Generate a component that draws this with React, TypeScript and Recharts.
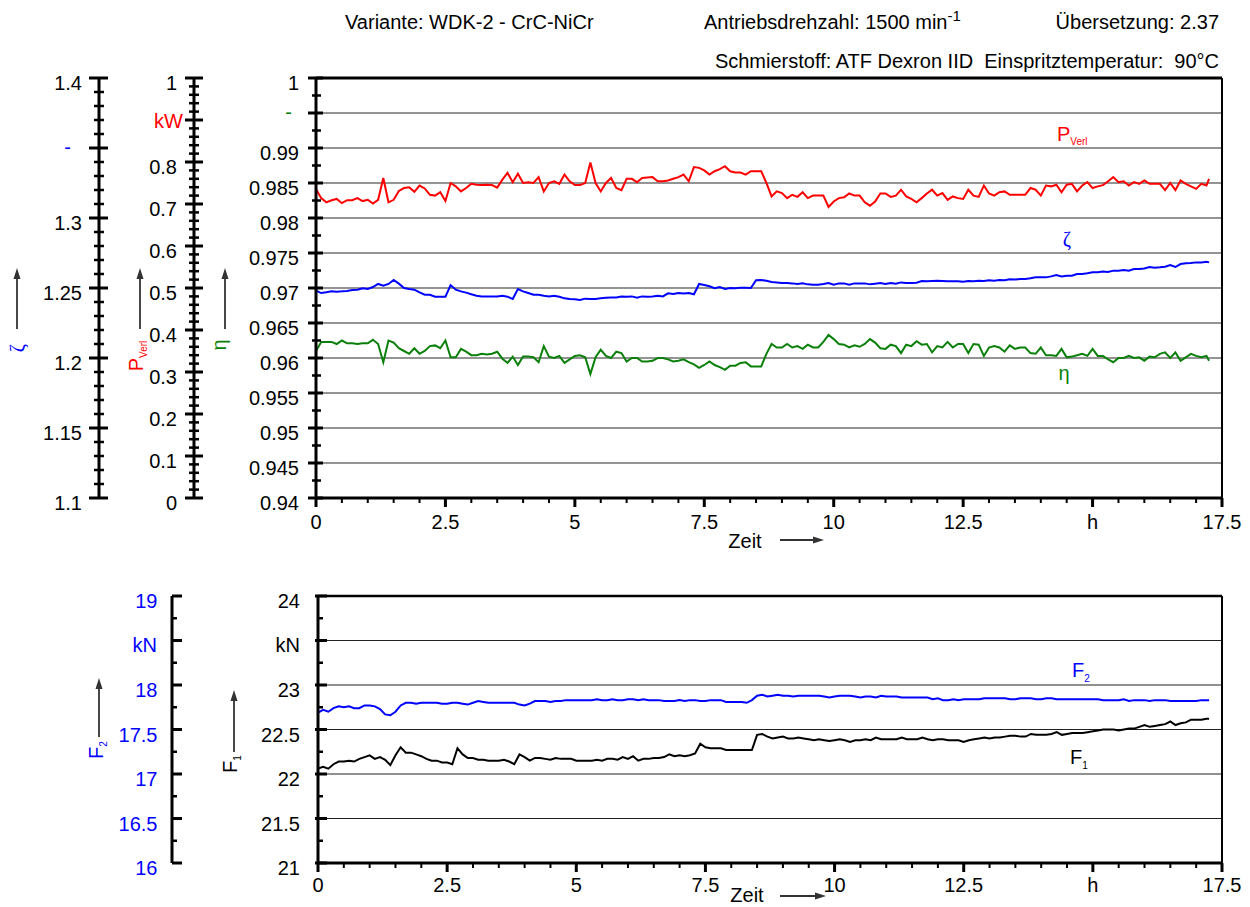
import React from "react";
import { ComposedChart, Line, XAxis, YAxis, ReferenceLine } from "recharts";

// sample times in hours
const hours = [
  0, 0.1, 0.2, 0.3, 0.4, 0.5, 0.6, 0.7, 0.8, 0.9,
  1, 1.1, 1.2, 1.3, 1.4, 1.5, 1.6, 1.7, 1.8, 1.9,
  2, 2.1, 2.2, 2.3, 2.4, 2.5, 2.6, 2.7, 2.8, 2.9,
  3, 3.1, 3.2, 3.3, 3.4, 3.5, 3.6, 3.7, 3.8, 3.9,
  4, 4.1, 4.2, 4.3, 4.4, 4.5, 4.6, 4.7, 4.8, 4.9,
  5, 5.1, 5.2, 5.3, 5.4, 5.5, 5.6, 5.7, 5.8, 5.9,
  6, 6.1, 6.2, 6.3, 6.4, 6.5, 6.6, 6.7, 6.8, 6.9,
  7, 7.1, 7.2, 7.3, 7.4, 7.5, 7.6, 7.7, 7.8, 7.9,
  8, 8.1, 8.2, 8.3, 8.4, 8.5, 8.6, 8.7, 8.8, 8.9,
  9, 9.1, 9.2, 9.3, 9.4, 9.5, 9.6, 9.7, 9.8, 9.9,
  10, 10.1, 10.2, 10.3, 10.4, 10.5, 10.6, 10.7, 10.8, 10.9,
  11, 11.1, 11.2, 11.3, 11.4, 11.5, 11.6, 11.7, 11.8, 11.9,
  12, 12.1, 12.2, 12.3, 12.4, 12.5, 12.6, 12.7, 12.8, 12.9,
  13, 13.1, 13.2, 13.3, 13.4, 13.5, 13.6, 13.7, 13.8, 13.9,
  14, 14.1, 14.2, 14.3, 14.4, 14.5, 14.6, 14.7, 14.8, 14.9,
  15, 15.1, 15.2, 15.3, 15.4, 15.5, 15.6, 15.7, 15.8, 15.9,
  16, 16.1, 16.2, 16.3, 16.4, 16.5, 16.6, 16.7, 16.8, 16.9,
  17, 17.1, 17.2, 17.25,
];

// P_Verl in kW
const powerLoss = [
  0.736, 0.714, 0.704, 0.709, 0.712, 0.702, 0.709, 0.709, 0.714, 0.707,
  0.710, 0.701, 0.710, 0.762, 0.704, 0.710, 0.731, 0.738, 0.740, 0.729,
  0.744, 0.737, 0.722, 0.720, 0.728, 0.707, 0.750, 0.742, 0.730, 0.738,
  0.748, 0.746, 0.745, 0.746, 0.745, 0.739, 0.758, 0.774, 0.752, 0.772,
  0.750, 0.752, 0.750, 0.764, 0.730, 0.750, 0.754, 0.748, 0.770, 0.754,
  0.745, 0.745, 0.750, 0.799, 0.750, 0.730, 0.750, 0.762, 0.738, 0.733,
  0.760, 0.760, 0.752, 0.762, 0.763, 0.764, 0.754, 0.754, 0.756, 0.760,
  0.764, 0.770, 0.754, 0.788, 0.786, 0.780, 0.770, 0.778, 0.783, 0.790,
  0.778, 0.775, 0.775, 0.770, 0.778, 0.778, 0.778, 0.750, 0.718, 0.730,
  0.726, 0.714, 0.722, 0.717, 0.728, 0.714, 0.720, 0.720, 0.720, 0.693,
  0.706, 0.714, 0.716, 0.725, 0.720, 0.720, 0.704, 0.696, 0.706, 0.725,
  0.725, 0.717, 0.720, 0.734, 0.718, 0.712, 0.704, 0.714, 0.725, 0.734,
  0.720, 0.726, 0.710, 0.718, 0.714, 0.712, 0.734, 0.720, 0.717, 0.744,
  0.725, 0.720, 0.728, 0.730, 0.722, 0.722, 0.722, 0.722, 0.738, 0.734,
  0.720, 0.744, 0.742, 0.746, 0.728, 0.746, 0.748, 0.730, 0.744, 0.752,
  0.738, 0.742, 0.745, 0.754, 0.764, 0.752, 0.754, 0.744, 0.752, 0.748,
  0.756, 0.748, 0.748, 0.748, 0.733, 0.750, 0.733, 0.756, 0.748, 0.742,
  0.736, 0.748, 0.744, 0.760,
];

// zeta (-)
const zeta = [
  1.2481, 1.2464, 1.2469, 1.2476, 1.2474, 1.2476, 1.2479, 1.2486, 1.2488, 1.2498,
  1.2493, 1.2507, 1.2529, 1.2517, 1.2529, 1.2557, 1.2531, 1.25, 1.2493, 1.2488,
  1.2469, 1.2452, 1.2452, 1.2438, 1.2438, 1.2438, 1.2521, 1.2488, 1.2476, 1.2467,
  1.2455, 1.2445, 1.244, 1.244, 1.244, 1.244, 1.2445, 1.2438, 1.2421, 1.2493,
  1.2476, 1.2464, 1.2452, 1.2452, 1.2445, 1.244, 1.2445, 1.2438, 1.2426, 1.2421,
  1.2419, 1.2414, 1.2424, 1.2421, 1.2421, 1.2426, 1.2431, 1.2433, 1.2433, 1.244,
  1.2438, 1.244, 1.2431, 1.244, 1.2438, 1.244, 1.2445, 1.244, 1.2462, 1.2457,
  1.2464, 1.246, 1.2464, 1.2455, 1.2529, 1.2521, 1.2512, 1.2498, 1.2507, 1.2493,
  1.25, 1.2498, 1.2502, 1.2502, 1.25, 1.2555, 1.2557, 1.2552, 1.2543, 1.254,
  1.2536, 1.2536, 1.2533, 1.2529, 1.2533, 1.2526, 1.2524, 1.2524, 1.2529, 1.2536,
  1.2524, 1.2533, 1.2533, 1.2524, 1.2533, 1.2533, 1.2533, 1.2526, 1.2531, 1.2536,
  1.2529, 1.2536, 1.2531, 1.254, 1.2536, 1.2536, 1.2538, 1.255, 1.2548, 1.255,
  1.2552, 1.255, 1.2548, 1.2548, 1.2548, 1.2545, 1.255, 1.2548, 1.2552, 1.255,
  1.2555, 1.2552, 1.2557, 1.2555, 1.2562, 1.256, 1.2564, 1.2564, 1.2569, 1.2576,
  1.2576, 1.2576, 1.2583, 1.2593, 1.2583, 1.2588, 1.2588, 1.26, 1.26, 1.2605,
  1.2612, 1.2612, 1.2617, 1.2614, 1.2624, 1.2624, 1.2629, 1.2624, 1.2636, 1.2636,
  1.264, 1.265, 1.2645, 1.2648, 1.2652, 1.2664, 1.265, 1.2671, 1.2676, 1.2679,
  1.2683, 1.2683, 1.2688, 1.2683,
];

// efficiency eta (-)
const eta = [
  0.961, 0.9623, 0.9623, 0.9623, 0.962, 0.9625, 0.9621, 0.9621, 0.962, 0.9621,
  0.9621, 0.9626, 0.962, 0.9594, 0.9625, 0.9622, 0.9614, 0.961, 0.9606, 0.9614,
  0.9606, 0.961, 0.9617, 0.9618, 0.9614, 0.9625, 0.9601, 0.9601, 0.9613, 0.9609,
  0.9604, 0.9604, 0.9606, 0.9605, 0.9606, 0.9609, 0.9599, 0.9593, 0.9602, 0.959,
  0.9602, 0.9602, 0.9601, 0.9594, 0.9617, 0.9602, 0.96, 0.9603, 0.9593, 0.9598,
  0.9603, 0.9604, 0.9601, 0.9577, 0.9601, 0.9612, 0.9603, 0.96, 0.9609, 0.9607,
  0.9595, 0.96, 0.96, 0.9595, 0.9595, 0.9596, 0.96, 0.96, 0.9598, 0.9595,
  0.9596, 0.9598, 0.9594, 0.9591, 0.9586, 0.959, 0.9595, 0.959, 0.9587, 0.9583,
  0.9589, 0.9589, 0.9593, 0.9594, 0.9588, 0.9588, 0.9588, 0.9606, 0.962, 0.9615,
  0.9615, 0.962, 0.9615, 0.9617, 0.9613, 0.9619, 0.9615, 0.9615, 0.9623, 0.9633,
  0.9627, 0.962, 0.9619, 0.9615, 0.9618, 0.9616, 0.962, 0.9627, 0.9622, 0.9614,
  0.9613, 0.9619, 0.9617, 0.9607, 0.9619, 0.9617, 0.9624, 0.9619, 0.962, 0.9608,
  0.9617, 0.9615, 0.9623, 0.9615, 0.962, 0.962, 0.9607, 0.962, 0.9619, 0.9603,
  0.9615, 0.9617, 0.9615, 0.9609, 0.9618, 0.9613, 0.9615, 0.9615, 0.9607, 0.9606,
  0.9615, 0.9604, 0.9604, 0.9603, 0.9613, 0.9601, 0.9602, 0.9604, 0.9606, 0.9603,
  0.9613, 0.9603, 0.9603, 0.9598, 0.9594, 0.96, 0.96, 0.9603, 0.96, 0.9601,
  0.9596, 0.9602, 0.9601, 0.9606, 0.9608, 0.96, 0.9608, 0.9596, 0.9601, 0.9606,
  0.9603, 0.9601, 0.9603, 0.9596,
];

// F1 in kN
const force1 = [
  22.06, 22.08, 22.06, 22.11, 22.14, 22.14, 22.15, 22.14, 22.17, 22.19,
  22.21, 22.17, 22.19, 22.16, 22.10, 22.21, 22.30, 22.24, 22.24, 22.22,
  22.20, 22.17, 22.15, 22.15, 22.13, 22.13, 22.11, 22.29, 22.22, 22.18,
  22.18, 22.16, 22.16, 22.15, 22.15, 22.15, 22.16, 22.14, 22.11, 22.22,
  22.19, 22.15, 22.18, 22.18, 22.17, 22.16, 22.18, 22.17, 22.17, 22.17,
  22.15, 22.15, 22.15, 22.15, 22.16, 22.15, 22.17, 22.17, 22.16, 22.19,
  22.17, 22.20, 22.15, 22.17, 22.17, 22.18, 22.18, 22.19, 22.22, 22.20,
  22.21, 22.20, 22.21, 22.23, 22.34, 22.30, 22.29, 22.29, 22.29, 22.27,
  22.27, 22.27, 22.27, 22.27, 22.27, 22.44, 22.45, 22.42, 22.40, 22.41,
  22.42, 22.40, 22.40, 22.41, 22.40, 22.39, 22.38, 22.39, 22.38, 22.37,
  22.38, 22.39, 22.38, 22.36, 22.38, 22.38, 22.39, 22.38, 22.41, 22.39,
  22.39, 22.39, 22.39, 22.41, 22.39, 22.39, 22.39, 22.41, 22.39, 22.38,
  22.39, 22.39, 22.38, 22.38, 22.38, 22.36, 22.38, 22.39, 22.40, 22.41,
  22.40, 22.41, 22.41, 22.42, 22.43, 22.43, 22.42, 22.42, 22.45, 22.44,
  22.44, 22.44, 22.45, 22.47, 22.44, 22.45, 22.46, 22.46, 22.46, 22.47,
  22.48, 22.49, 22.50, 22.50, 22.50, 22.49, 22.50, 22.51, 22.51, 22.53,
  22.55, 22.53, 22.54, 22.55, 22.56, 22.59, 22.55, 22.57, 22.58, 22.61,
  22.61, 22.61, 22.62, 22.62,
];

// F2 in kN
const force2 = [
  17.69, 17.72, 17.70, 17.74, 17.76, 17.75, 17.76, 17.74, 17.74, 17.77,
  17.77, 17.76, 17.73, 17.67, 17.66, 17.70, 17.77, 17.80, 17.80, 17.79,
  17.80, 17.80, 17.80, 17.80, 17.79, 17.79, 17.80, 17.80, 17.79, 17.78,
  17.80, 17.82, 17.81, 17.80, 17.80, 17.80, 17.80, 17.80, 17.80, 17.78,
  17.77, 17.79, 17.82, 17.82, 17.82, 17.81, 17.82, 17.82, 17.83, 17.83,
  17.83, 17.83, 17.83, 17.83, 17.84, 17.83, 17.83, 17.84, 17.83, 17.83,
  17.84, 17.84, 17.83, 17.84, 17.83, 17.83, 17.83, 17.82, 17.82, 17.82,
  17.83, 17.82, 17.83, 17.83, 17.82, 17.82, 17.83, 17.83, 17.83, 17.81,
  17.81, 17.81, 17.81, 17.80, 17.83, 17.88, 17.89, 17.87, 17.88, 17.89,
  17.88, 17.88, 17.87, 17.88, 17.88, 17.88, 17.88, 17.88, 17.87, 17.86,
  17.87, 17.88, 17.88, 17.88, 17.87, 17.86, 17.87, 17.87, 17.86, 17.88,
  17.87, 17.87, 17.87, 17.86, 17.86, 17.86, 17.86, 17.86, 17.86, 17.84,
  17.85, 17.83, 17.83, 17.84, 17.83, 17.84, 17.84, 17.84, 17.84, 17.85,
  17.85, 17.85, 17.85, 17.85, 17.84, 17.84, 17.85, 17.85, 17.85, 17.84,
  17.84, 17.85, 17.85, 17.84, 17.84, 17.84, 17.84, 17.84, 17.84, 17.84,
  17.84, 17.84, 17.83, 17.83, 17.83, 17.83, 17.84, 17.82, 17.83, 17.83,
  17.83, 17.82, 17.83, 17.83, 17.83, 17.82, 17.82, 17.82, 17.82, 17.82,
  17.82, 17.83, 17.83, 17.83,
];

// axis ticks and labels
const hourMajor = [0, 2.5, 5, 7.5, 10, 12.5, 15, 17.5];
const hourLabels = ["0", "2.5", "5", "7.5", "10", "12.5", "h", "17.5"];
const etaMajor = [0.94, 0.945, 0.95, 0.955, 0.96, 0.965, 0.97, 0.975, 0.98, 0.985, 0.99, 0.995, 1];
const etaLabels = ["0.94", "0.945", "0.95", "0.955", "0.96", "0.965", "0.97", "0.975", "0.98", "0.985", "0.99", "-", "1"];
const powerMajor = [0, 0.1, 0.2, 0.3, 0.4, 0.5, 0.6, 0.7, 0.8, 0.9, 1];
const powerLabels = ["0", "0.1", "0.2", "0.3", "0.4", "0.5", "0.6", "0.7", "0.8", "kW", "1"];
const zetaMajor = [1.1, 1.15, 1.2, 1.25, 1.3, 1.35, 1.4];
const zetaLabels = ["1.1", "1.15", "1.2", "1.25", "1.3", "-", "1.4"];
const f1Major = [21, 21.5, 22, 22.5, 23, 23.5, 24];
const f1Labels = ["21", "21.5", "22", "22.5", "23", "kN", "24"];
const f2Major = [16, 16.5, 17, 17.5, 18, 18.5, 19];
const f2Labels = ["16", "16.5", "17", "17.5", "18", "kN", "19"];

const FONT = '"Liberation Sans", Arial, Helvetica, sans-serif';
const SERIF = '"Liberation Serif", "DejaVu Serif", serif';
const RED = "#ff0000";
const BLUE = "#0000ff";
const GREEN = "#0a800a";

const steps = (from: number, to: number, step: number) => {
  const n = Math.round((to - from) / step);
  return Array.from({ length: n + 1 }, (_, i) => +(from + i * step).toFixed(6));
};

const rows = hours.map((t, i) => ({
  t,
  power: powerLoss[i],
  zeta: zeta[i],
  eta: eta[i],
  f1: force1[i],
  f2: force2[i],
}));

type YTickOpts = {
  majors: number[];
  labels: string[];
  color: string;
  unitColor: string;
  majorTick: [number, number];
  minorTick: [number, number];
  gap: number;
  unitGap: number;
  unitDy: number;
};

const makeYTick = (o: YTickOpts) => (props: any) => {
  const { x, y, payload } = props;
  const i = o.majors.findIndex((m) => Math.abs(m - payload.value) < 1e-7);
  const major = i >= 0;
  const [a, b] = major ? o.majorTick : o.minorTick;
  const label = major ? o.labels[i] : null;
  const numeric = label !== null && /^[0-9.]+$/.test(label);
  return (
    <g>
      <line x1={x - a} x2={x + b} y1={y} y2={y} stroke="#000" strokeWidth={major ? 3 : 2.5} />
      {label !== null && (
        <text
          x={numeric ? x - o.gap : x - o.unitGap}
          y={y + (numeric ? 12 : o.unitDy)}
          textAnchor="end"
          fill={numeric ? o.color : o.unitColor}
          fontSize={20}
          fontFamily={FONT}
        >
          {label}
        </text>
      )}
    </g>
  );
};

const makeXTick = (labelDy: number) => (props: any) => {
  const { x, y, payload } = props;
  const i = hourMajor.findIndex((m) => Math.abs(m - payload.value) < 1e-7);
  const major = i >= 0;
  return (
    <g>
      <line x1={x} x2={x} y1={y} y2={y + (major ? 9 : 5)} stroke="#000" strokeWidth={major ? 3 : 2} />
      {major && (
        <text x={x} y={y + labelDy} textAnchor="middle" fill="#000" fontSize={20} fontFamily={FONT}>
          {hourLabels[i]}
        </text>
      )}
    </g>
  );
};

const hourTicks = steps(0, 17.5, 0.5);
const axisLine = { stroke: "#000", strokeWidth: 3 };

const Arrow = ({ x1, y1, x2, y2 }: { x1: number; y1: number; x2: number; y2: number }) => {
  const ang = Math.atan2(y2 - y1, x2 - x1);
  const len = 11;
  const half = 3.5;
  const bx = x2 - len * Math.cos(ang);
  const by = y2 - len * Math.sin(ang);
  const px = -Math.sin(ang) * half;
  const py = Math.cos(ang) * half;
  return (
    <g>
      <line x1={x1} y1={y1} x2={bx} y2={by} stroke="#333" strokeWidth={1.8} />
      <polygon points={`${x2},${y2} ${bx + px},${by + py} ${bx - px},${by - py}`} fill="#333" />
    </g>
  );
};

function Annotations() {
  return (
    <svg
      width={1250}
      height={907}
      style={{ position: "absolute", left: 0, top: 0, pointerEvents: "none" }}
      fontFamily={FONT}
      fontSize={20}
    >
      {/* header */}
      <text x={345} y={29}>Variante: WDK-2 - CrC-NiCr</text>
      <text x={704} y={29}>
        Antriebsdrehzahl: 1500 min
        <tspan dy={-8} fontSize={15}>-1</tspan>
      </text>
      <text x={1219} y={29} textAnchor="end">Übersetzung: 2.37</text>
      <text x={1219} y={68} textAnchor="end" xmlSpace="preserve">
        Schmierstoff: ATF Dexron IID  Einspritztemperatur:  90°C
      </text>

      {/* left axis titles */}
      <Arrow x1={17} y1={329} x2={17} y2={268} />
      <text x={24} y={348} fill={BLUE} fontFamily={SERIF} textAnchor="middle" transform="rotate(-90 24 348)">
        ζ
      </text>
      <Arrow x1={140} y1={329} x2={140} y2={268} />
      <text x={143} y={356} fill={RED} textAnchor="middle" transform="rotate(-90 143 356)">
        P<tspan fontSize={10} dy={4}>Verl</tspan>
      </text>
      <Arrow x1={225} y1={329} x2={225} y2={268} />
      <text x={226} y={345} fill={GREEN} textAnchor="middle" transform="rotate(-90 226 345)">
        η
      </text>

      <Arrow x1={99} y1={737} x2={99} y2={678} />
      <text x={103} y={750} fill={BLUE} textAnchor="middle" transform="rotate(-90 103 750)">
        F<tspan fontSize={10} dy={4}>2</tspan>
      </text>
      <Arrow x1={234} y1={752} x2={234} y2={690} />
      <text x={237} y={764} fill="#000" textAnchor="middle" transform="rotate(-90 237 764)">
        F<tspan fontSize={10} dy={4}>1</tspan>
      </text>

      {/* curve labels */}
      <text x={1057} y={141} fill={RED}>
        P<tspan fontSize={10} dy={4}>Verl</tspan>
      </text>
      <text x={1067} y={246} fill={BLUE} fontFamily={SERIF} textAnchor="middle">ζ</text>
      <text x={1064} y={380} fill={GREEN} textAnchor="middle">η</text>
      <text x={1072} y={677} fill={BLUE}>
        F<tspan fontSize={10} dy={5}>2</tspan>
      </text>
      <text x={1070} y={764} fill="#000">
        F<tspan fontSize={10} dy={5}>1</tspan>
      </text>

      {/* time axis titles */}
      <text x={745} y={548} textAnchor="middle">Zeit</text>
      <Arrow x1={780} y1={540} x2={824} y2={540} />
      <text x={747} y={902} textAnchor="middle">Zeit</text>
      <Arrow x1={780} y1={896} x2={826} y2={896} />
    </svg>
  );
}

export default function App() {
  return (
    <div
      style={{
        position: "absolute",
        left: 0,
        top: 0,
        width: 1250,
        height: 907,
        overflow: "hidden",
        background: "#fff",
        fontFamily: FONT,
      }}
    >
      <div style={{ position: "absolute", left: 0, top: 0 }}>
        <ComposedChart width={1250} height={548} data={rows} margin={{ top: 78, right: 28, bottom: 0, left: 0 }}>
          <XAxis
            dataKey="t"
            type="number"
            domain={[0, 17.5]}
            ticks={hourTicks}
            interval={0}
            height={50}
            tickSize={0}
            tickMargin={0}
            tickLine={false}
            axisLine={axisLine}
            tick={makeXTick(31)}
            allowDataOverflow
          />
          <YAxis
            yAxisId="eta"
            type="number"
            domain={[0.94, 1]}
            ticks={steps(0.94, 1, 0.0025)}
            interval={0}
            width={122}
            tickSize={0}
            tickMargin={0}
            tickLine={false}
            axisLine={axisLine}
            allowDataOverflow
            tick={makeYTick({
              majors: etaMajor,
              labels: etaLabels,
              color: "#000",
              unitColor: GREEN,
              majorTick: [8, 7],
              minorTick: [4, 5],
              gap: 17,
              unitGap: 24,
              unitDy: 6,
            })}
          />
          <YAxis
            yAxisId="power"
            type="number"
            domain={[0, 1]}
            ticks={steps(0, 1, 0.02)}
            interval={0}
            width={95}
            tickSize={0}
            tickMargin={0}
            tickLine={false}
            axisLine={axisLine}
            allowDataOverflow
            tick={makeYTick({
              majors: powerMajor,
              labels: powerLabels,
              color: "#000",
              unitColor: RED,
              majorTick: [9, 9],
              minorTick: [5, 5],
              gap: 17,
              unitGap: 11,
              unitDy: 8,
            })}
          />
          <YAxis
            yAxisId="zeta"
            type="number"
            domain={[1.1, 1.4]}
            ticks={steps(1.1, 1.4, 0.01)}
            interval={0}
            width={99}
            tickSize={0}
            tickMargin={0}
            tickLine={false}
            axisLine={axisLine}
            allowDataOverflow
            tick={makeYTick({
              majors: zetaMajor,
              labels: zetaLabels,
              color: "#000",
              unitColor: BLUE,
              majorTick: [10, 9],
              minorTick: [5, 5],
              gap: 17,
              unitGap: 28,
              unitDy: 6,
            })}
          />
          {etaMajor.slice(1, -1).map((v) => (
            <ReferenceLine key={v} yAxisId="eta" y={v} stroke="#707070" strokeWidth={1.5} />
          ))}
          <ReferenceLine yAxisId="eta" y={1} stroke="#000" strokeWidth={3} />
          <ReferenceLine yAxisId="eta" x={17.5} stroke="#000" strokeWidth={2} />
          <Line yAxisId="power" dataKey="power" stroke={RED} strokeWidth={2} dot={false} isAnimationActive={false} />
          <Line yAxisId="zeta" dataKey="zeta" stroke={BLUE} strokeWidth={2} dot={false} isAnimationActive={false} />
          <Line yAxisId="eta" dataKey="eta" stroke={GREEN} strokeWidth={2} dot={false} isAnimationActive={false} />
        </ComposedChart>
      </div>

      <div style={{ position: "absolute", left: 0, top: 548 }}>
        <ComposedChart width={1250} height={359} data={rows} margin={{ top: 48, right: 28, bottom: 0, left: 0 }}>
          <XAxis
            dataKey="t"
            type="number"
            domain={[0, 17.5]}
            ticks={hourTicks}
            interval={0}
            height={44}
            tickSize={0}
            tickMargin={0}
            tickLine={false}
            axisLine={axisLine}
            tick={makeXTick(29)}
            allowDataOverflow
          />
          <YAxis
            yAxisId="f1"
            type="number"
            domain={[21, 24]}
            ticks={steps(21, 24, 0.25)}
            interval={0}
            width={146}
            tickSize={0}
            tickMargin={0}
            tickLine={false}
            axisLine={axisLine}
            allowDataOverflow
            tick={makeYTick({
              majors: f1Major,
              labels: f1Labels,
              color: "#000",
              unitColor: "#000",
              majorTick: [3, 9],
              minorTick: [0, 5],
              gap: 18,
              unitGap: 18,
              unitDy: 11,
            })}
          />
          <YAxis
            yAxisId="f2"
            type="number"
            domain={[16, 19]}
            ticks={steps(16, 19, 0.25)}
            interval={0}
            width={172}
            tickSize={0}
            tickMargin={0}
            tickLine={false}
            axisLine={axisLine}
            allowDataOverflow
            tick={makeYTick({
              majors: f2Major,
              labels: f2Labels,
              color: BLUE,
              unitColor: BLUE,
              majorTick: [0, 10],
              minorTick: [0, 5],
              gap: 14.5,
              unitGap: 15,
              unitDy: 11,
            })}
          />
          {f1Major.slice(1, -1).map((v) => (
            <ReferenceLine key={v} yAxisId="f1" y={v} stroke="#222" strokeWidth={1.2} />
          ))}
          <ReferenceLine yAxisId="f1" y={24} stroke="#000" strokeWidth={2.5} />
          <ReferenceLine yAxisId="f1" x={17.5} stroke="#000" strokeWidth={2} />
          <Line yAxisId="f2" dataKey="f2" stroke={BLUE} strokeWidth={2} dot={false} isAnimationActive={false} />
          <Line yAxisId="f1" dataKey="f1" stroke="#000" strokeWidth={2} dot={false} isAnimationActive={false} />
        </ComposedChart>
      </div>

      <Annotations />
    </div>
  );
}
